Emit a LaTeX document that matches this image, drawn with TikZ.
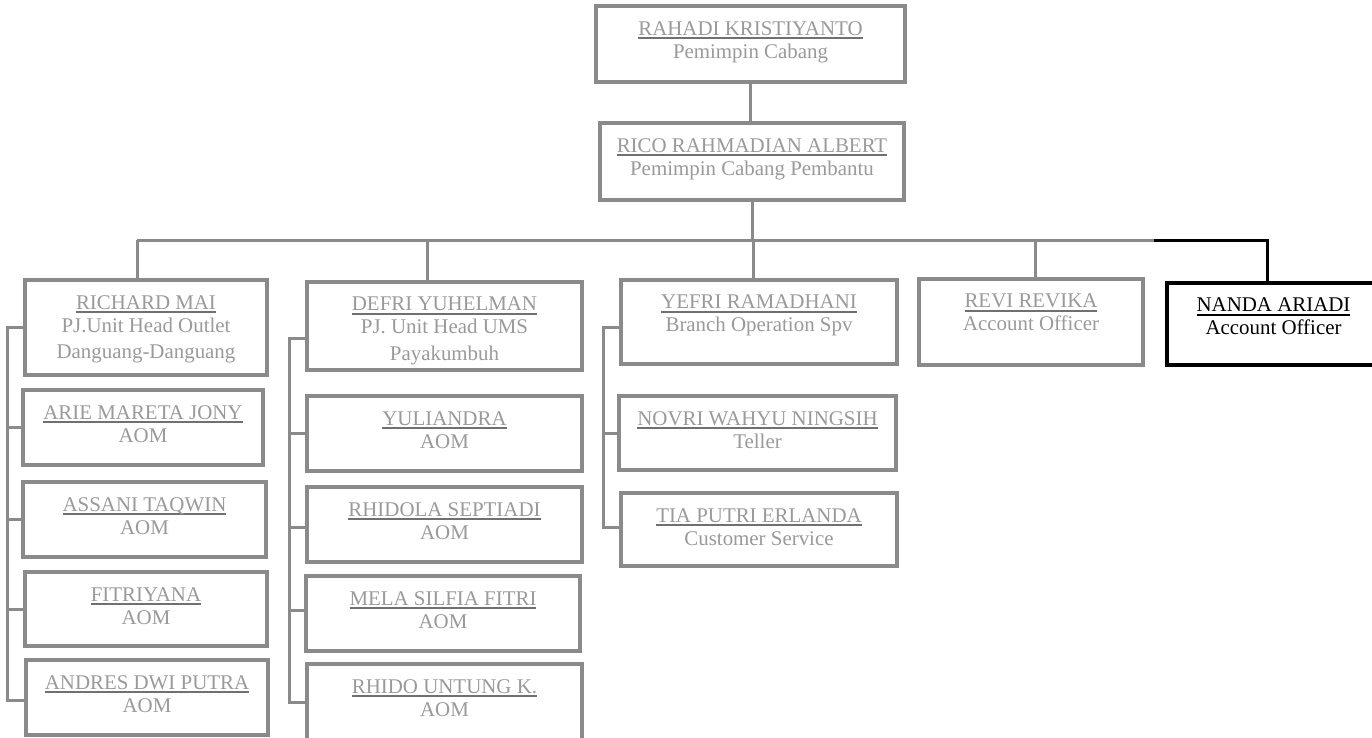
\documentclass[tikz,border=0pt]{standalone}
\usepackage{fontspec}
\setmainfont{Liberation Serif}
\definecolor{linegray}{HTML}{8A8A8A}
\definecolor{txtgray}{HTML}{9A9A9A}
\definecolor{ulgray}{HTML}{707070}
\newcommand\grayname[1]{\begingroup\setbox0\hbox{\textcolor{txtgray}{#1}}\rlap{\textcolor{ulgray}{\rule[-3.6pt]{\wd0}{2pt}}}\box0\endgroup}
\newcommand\blackname[1]{\begingroup\setbox0\hbox{#1}\rlap{\rule[-3.6pt]{\wd0}{2pt}}\box0\endgroup}
\begin{document}
\begin{tikzpicture}[x=1pt,y=-1pt,
  box/.style={draw=linegray, line width=3.2pt, inner sep=0pt, outer sep=0pt},
  blackbox/.style={draw=black, line width=3.2pt, inner sep=0pt, outer sep=0pt},
  txt/.style={anchor=north, align=center, text=txtgray, inner sep=0pt,
    font=\fontsize{20.9}{23}\selectfont},
  conn/.style={draw=linegray, line width=3pt},
  blackconn/.style={draw=black, line width=3pt}]
\useasboundingbox (0,0) rectangle (1372,738);
\fill[white] (0,0) rectangle (1372,738);
\clip (0,0) rectangle (1372,738);

% ---- boxes ----
\node[box, minimum width=309pt, minimum height=76pt] (r1) at (750.5,44) {};
\node[box, minimum width=304pt, minimum height=77pt] (r2) at (752,161.5) {};

\node[box, minimum width=242pt, minimum height=95pt] (a1) at (146,327.5) {};
\node[box, minimum width=240pt, minimum height=75pt] (a2) at (143,427.5) {};
\node[box, minimum width=243pt, minimum height=75pt] (a3) at (144.5,519.5) {};
\node[box, minimum width=242pt, minimum height=74pt] (a4) at (146,609) {};
\node[box, minimum width=242pt, minimum height=75pt] (a5) at (147,697.5) {};

\node[box, minimum width=275pt, minimum height=88pt] (b1) at (444.5,326) {};
\node[box, minimum width=275pt, minimum height=75pt] (b2) at (444.5,433.5) {};
\node[box, minimum width=275pt, minimum height=75pt] (b3) at (444.5,524.5) {};
\node[box, minimum width=274pt, minimum height=75pt] (b4) at (443,613.5) {};
\node[box, minimum width=275pt, minimum height=76pt] (b5) at (444.5,702) {};

\node[box, minimum width=276pt, minimum height=84pt] (c1) at (759,322) {};
\node[box, minimum width=277pt, minimum height=74pt] (c2) at (757.5,433) {};
\node[box, minimum width=276pt, minimum height=73pt] (c3) at (759,529.5) {};

\node[box, minimum width=224pt, minimum height=86pt] (d1) at (1031,322) {};
\node[blackbox, minimum width=213pt, minimum height=82pt] (e1) at (1273.5,324) {};

% ---- texts ----
\node[txt] (r1t) at ([yshift=-15pt]r1.north) {\grayname{RAHADI KRISTIYANTO}\\Pemimpin Cabang};
\node[txt] (r2t) at ([yshift=-15pt]r2.north) {\grayname{RICO RAHMADIAN ALBERT}\\Pemimpin Cabang Pembantu};

\node[txt] (a1t) at ([yshift=-15pt]a1.north) {\grayname{RICHARD MAI}\\PJ.Unit Head Outlet\\[3pt]Danguang-Danguang};
\node[txt] (a2t) at ([yshift=-15pt]a2.north) {\grayname{ARIE MARETA JONY}\\AOM};
\node[txt] (a3t) at ([yshift=-15pt]a3.north) {\grayname{ASSANI TAQWIN}\\AOM};
\node[txt] (a4t) at ([yshift=-15pt]a4.north) {\grayname{FITRIYANA}\\AOM};
\node[txt] (a5t) at ([yshift=-15pt]a5.north) {\grayname{ANDRES DWI PUTRA}\\AOM};

\node[txt] (b1t) at ([yshift=-15pt]b1.north) {\grayname{DEFRI YUHELMAN}\\PJ. Unit Head UMS\\[3pt]Payakumbuh};
\node[txt] (b2t) at ([yshift=-15pt]b2.north) {\grayname{YULIANDRA}\\AOM};
\node[txt] (b3t) at ([yshift=-15pt]b3.north) {\grayname{RHIDOLA SEPTIADI}\\AOM};
\node[txt] (b4t) at ([yshift=-15pt]b4.north) {\grayname{MELA SILFIA FITRI}\\AOM};
\node[txt] (b5t) at ([yshift=-15pt]b5.north) {\grayname{RHIDO UNTUNG K.}\\AOM};

\node[txt] (c1t) at ([yshift=-15pt]c1.north) {\grayname{YEFRI RAMADHANI}\\Branch Operation Spv};
\node[txt] (c2t) at ([yshift=-15pt]c2.north) {\grayname{NOVRI WAHYU NINGSIH}\\Teller};
\node[txt] (c3t) at ([yshift=-15pt]c3.north) {\grayname{TIA PUTRI ERLANDA}\\Customer Service};

\node[txt] (d1t) at ([yshift=-15pt]d1.north) {\grayname{REVI REVIKA}\\Account Officer};
\node[txt, text=black] (e1t) at ([yshift=-15pt]e1.north) {\blackname{NANDA ARIADI}\\Account Officer};

% ---- bus coordinates ----
\coordinate (busL) at (137,240);
\coordinate (busR) at (1154,240);
\coordinate (dropB) at (427,240);
\coordinate (dropC) at (753,240);
\coordinate (dropD) at (1035,240);
\coordinate (dropE) at (1267,240);
\coordinate (spA) at (7,0);
\coordinate (spB) at (289,0);
\coordinate (spC) at (603,0);

% ---- top connectors ----
\draw[conn] (r1.south) -- (r1.south |- r2.north);
\draw[conn] (r2.south) -- (r2.south |- busL);
\draw[conn] (busL) -- (busR);
\draw[conn] (busL) -- (busL |- a1.north);
\draw[conn] (dropB) -- (dropB |- b1.north);
\draw[conn] (dropC) -- (dropC |- c1.north);
\draw[conn] (dropD) -- (dropD |- d1.north);
\draw[blackconn] (busR) -- (dropE) -- (dropE |- e1.north);

% ---- column A spine ----
\draw[conn] (a1.west) -- (a1.west -| spA) -- ([yshift=-2.5pt]a5.west -| spA) -- ([yshift=-2.5pt]a5.west);
\draw[conn] (a2.west) -- (a2.west -| spA);
\draw[conn] (a3.west) -- (a3.west -| spA);
\draw[conn] (a4.west) -- (a4.west -| spA);

% ---- column B spine ----
\draw[conn] ([yshift=-12pt]b1.west) -- ([yshift=-12pt]b1.west -| spB) -- (b5.west -| spB) -- (b5.west);
\draw[conn] (b2.west) -- (b2.west -| spB);
\draw[conn] ([yshift=-3pt]b3.west) -- ([yshift=-3pt]b3.west -| spB);
\draw[conn] ([yshift=3pt]b4.west) -- ([yshift=3pt]b4.west -| spB);

% ---- column C spine ----
\draw[conn] ([yshift=-5pt]c1.west) -- ([yshift=-5pt]c1.west -| spC) -- ([yshift=2.5pt]c3.west -| spC) -- ([yshift=2.5pt]c3.west);
\draw[conn] (c2.west) -- (c2.west -| spC);
\end{tikzpicture}
\end{document}
